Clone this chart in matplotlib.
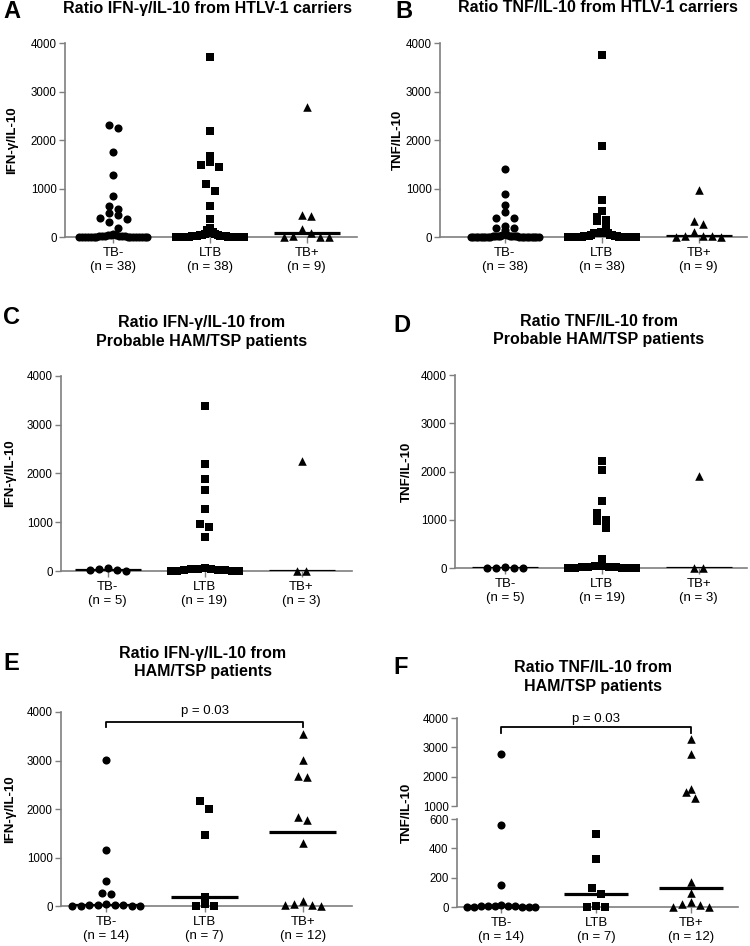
import numpy as np
import matplotlib
matplotlib.use('Agg')
import matplotlib.pyplot as plt

plt.rcParams['font.family'] = ['Liberation Sans', 'DejaVu Sans']

W, H = 750, 946
groups = ['TB-', 'LTB', 'TB+']

# --- data ---
a_tbneg = [2300, 2240, 1750, 1270, 850, 640, 570, 490, 450, 400, 370, 300, 180,
           60, 45, 40, 35, 30, 30, 25, 20, 20, 15, 10, 10, 5, 5, 0, 0, 0, 0, 0, 0, 0, 0, 0, 0, 0]
a_ltb = [3710, 2190, 1670, 1550, 1480, 1450, 1100, 940, 630, 370, 185, 165, 145, 100,
         70, 55, 50, 40, 35, 30, 25, 20, 20, 15, 12, 10, 8, 5, 5, 3, 2, 0, 0, 0, 0, 0, 0, 0]
a_tbpos = [2690, 450, 440, 160, 80, 20, 0, 0, 0]

b_tbneg = [1400, 890, 660, 520, 390, 385, 230, 185, 180, 145,
           40, 35, 30, 25, 25, 20, 20, 15, 15, 12, 10, 10, 8, 5, 5, 5, 3, 2, 0, 0, 0, 0, 0, 0, 0, 0, 0, 0]
b_ltb = [3750, 1870, 760, 540, 410, 360, 340, 185, 100, 95, 90, 90, 85, 80, 75,
         45, 40, 35, 30, 25, 20, 20, 15, 10, 10, 8, 5, 5, 3, 2, 0, 0, 0, 0, 0, 0, 0, 0]
b_tbpos = [960, 340, 270, 100, 30, 25, 20, 10, 5]

c_tbneg = [55, 30, 0, 25, 50]
c_ltb = [3380, 2200, 1890, 1670, 1280, 960, 900, 700,
         55, 45, 40, 35, 30, 20, 15, 10, 0, 0, 0]
c_tbpos = [2260, 0, 0]

d_tbneg = [15, 10, 5, 10, 0]
d_ltb = [2210, 2040, 1390, 1150, 990, 970, 820, 180,
         50, 40, 30, 25, 20, 15, 10, 5, 0, 0, 0]
d_tbpos = [1910, 0, 0]

e_tbneg = [3020, 1150, 510, 260, 250, 40, 30, 25, 20, 15, 10, 5, 0, 0]
e_ltb = [2160, 2000, 1460, 180, 50, 0, 0]
e_tbpos = [3550, 3020, 2690, 2650, 1840, 1780, 1290, 100, 50, 30, 20, 0]

f_tbneg = [2770, 557, 152, 15, 10, 10, 8, 5, 5, 3, 2, 0, 0, 0]
f_ltb = [500, 327, 130, 91, 9, 0, 0]
f_tbpos = [3278, 2763, 1594, 1480, 1286, 170, 95, 32, 23, 11, 0, 0]

p_label = 'p = 0.03'

markers = ['o', 's', '^']
msize = [34, 30, 38]
GRAY = '#7f7f7f'

fig = plt.figure(figsize=(W / 100, H / 100), dpi=100)


def rect(l, r, top, bot):
    return [l / W, 1 - bot / H, (r - l) / W, (bot - top) / H]


def swarm(ypx, d=9.0, wmax=34.0):
    # points close in height share a row; rows are spread sideways, tallest in the middle
    ypx = np.asarray(ypx, float)
    order = np.argsort(ypx, kind='stable')
    offs = np.zeros(len(ypx))
    rows, cur = [], [order[0]]
    for i in order[1:]:
        if ypx[i] - ypx[cur[0]] < d * 0.9:
            cur.append(i)
        else:
            rows.append(cur)
            cur = [i]
    rows.append(cur)
    for row in rows:
        n = len(row)
        if n == 1:
            continue
        step = min(d, 2 * wmax / (n - 1))
        slots = (np.arange(n) - (n - 1) / 2) * step
        slots = slots[np.argsort(np.abs(slots), kind='stable')]
        row_sorted = sorted(row, key=lambda i: -ypx[i])
        for k, i in enumerate(row_sorted):
            offs[i] = slots[k]
    return offs


def style(ax, bottom=True):
    for s in ['top', 'right']:
        ax.spines[s].set_visible(False)
    ax.spines['left'].set_color(GRAY)
    ax.spines['left'].set_linewidth(1.2)
    ax.spines['bottom'].set_color(GRAY)
    ax.spines['bottom'].set_linewidth(1.2)
    if not bottom:
        ax.spines['bottom'].set_visible(False)
    ax.tick_params(axis='y', colors=GRAY, labelcolor='black', labelsize=8.3, length=4, width=1.0, pad=2)
    ax.tick_params(axis='x', colors=GRAY, labelcolor='black', labelsize=9.5, length=4, width=1.0, pad=3)


def draw_groups(axes_list, data, pxfun, xpx):
    for gi, vals in enumerate(data):
        vals = np.asarray(vals, float)
        offs = swarm(pxfun(vals)) / xpx
        for ax, lo, hi in axes_list:
            m = (vals >= lo) & (vals <= hi)
            ax.scatter(gi + offs[m], vals[m], marker=markers[gi], s=msize[gi], color='black',
                       linewidths=0, zorder=4, clip_on=False)
        med = np.median(vals)
        for ax, lo, hi in axes_list:
            if lo <= med <= hi:
                ax.hlines(med, gi - 0.34, gi + 0.34, color='black', lw=2.3, zorder=3)


def cat_labels(ax, data):
    ax.set_xticks(range(3))
    ax.set_xticklabels([f'{g}\n(n = {len(v)})' for g, v in zip(groups, data)])
    for t in ax.get_xticklabels():
        t.set_linespacing(1.2)


def ftext(x, y, s, **kw):
    return fig.text(x / W, 1 - y / H, s, ha='center', va='center', **kw)


panels = [
    # letter, title lines, ylabel, data, (left, right, top, bottom), xlim, letter pos, title pos, ylabel x
    ('A', ['Ratio IFN-γ/IL-10 from HTLV-1 carriers'], 'IFN-γ/IL-10', [a_tbneg, a_ltb, a_tbpos],
     (65, 357, 43, 237), (-0.5, 2.52), (3, 12), (207, 8), 12),
    ('B', ['Ratio TNF/IL-10 from HTLV-1 carriers'], 'TNF/IL-10', [b_tbneg, b_ltb, b_tbpos],
     (440, 747, 43, 237), (-0.67, 2.5), (395, 12), (598, 8), 398),
    ('C', ['Ratio IFN-γ/IL-10 from', 'Probable HAM/TSP patients'], 'IFN-γ/IL-10', [c_tbneg, c_ltb, c_tbpos],
     (61, 352, 376, 571), (-0.48, 2.52), (3, 317), (202, 323), 10),
    ('D', ['Ratio TNF/IL-10 from', 'Probable HAM/TSP patients'], 'TNF/IL-10', [d_tbneg, d_ltb, d_tbpos],
     (455, 747, 375, 568), (-0.52, 2.5), (393, 326), (599, 321), 407),
    ('E', ['Ratio IFN-γ/IL-10 from', 'HAM/TSP patients'], 'IFN-γ/IL-10', [e_tbneg, e_ltb, e_tbpos],
     (61, 352, 712, 906), (-0.46, 2.5), (3, 663), (203, 653), 10),
]

for letter, title, ylab, data, (l, r, t, b), xlim, lpos, tpos, ylx in panels:
    ax = fig.add_axes(rect(l, r, t, b))
    ax.set_xlim(*xlim)
    ax.set_ylim(0, 4000)
    ax.set_yticks([0, 1000, 2000, 3000, 4000])
    style(ax)
    cat_labels(ax, data)
    xpx = (r - l) / (xlim[1] - xlim[0])
    scale = (b - t) / 4000.0
    draw_groups([(ax, -1, 5000)], data, lambda v, s=scale: v * s, xpx)
    ftext(ylx, (t + b) / 2, ylab, rotation=90, fontsize=9.5, fontweight='bold')
    fig.text(lpos[0] / W, 1 - lpos[1] / H, letter, fontsize=17, fontweight='bold', ha='left', va='center')
    for k, line in enumerate(title):
        ftext(tpos[0], tpos[1] + 18.5 * k, line, fontsize=11.5, fontweight='bold')
    if letter == 'E':
        ax.plot([0, 0, 2, 2], [3685, 3790, 3790, 3685], color='black', lw=1.3, clip_on=False)
        ax.text(1, 4020, p_label, ha='center', va='center', fontsize=9.5, clip_on=False)

# panel F with broken y axis
l, r = 457, 738
xlim = (-0.47, 2.5)
axu = fig.add_axes(rect(l, r, 718, 806))
axl = fig.add_axes(rect(l, r, 819, 907))
for ax in (axu, axl):
    ax.set_xlim(*xlim)
axu.set_ylim(1000, 4000)
axu.set_yticks([1000, 2000, 3000, 4000])
axl.set_ylim(0, 600)
axl.set_yticks([0, 200, 400, 600])
style(axu, bottom=False)
style(axl)
axu.set_xticks([])
f_data = [f_tbneg, f_ltb, f_tbpos]
cat_labels(axl, f_data)
xpx = (r - l) / (xlim[1] - xlim[0])


def f_px(v):
    v = np.asarray(v, float)
    return np.where(v <= 600, v * 88 / 600, 101 + (v - 1000) * 88 / 3000)


draw_groups([(axu, 1000, 5000), (axl, -1, 600)], f_data, f_px, xpx)
axu.plot([0, 0, 2, 2], [3500, 3693, 3693, 3500], color='black', lw=1.3, clip_on=False)
axu.text(1, 3955, p_label, ha='center', va='center', fontsize=9.5, clip_on=False)
ftext(407, 813, 'TNF/IL-10', rotation=90, fontsize=9.5, fontweight='bold')
fig.text(393 / W, 1 - 667 / H, 'F', fontsize=17, fontweight='bold', ha='left', va='center')
ftext(593, 668, 'Ratio TNF/IL-10 from', fontsize=11.5, fontweight='bold')
ftext(593, 686.5, 'HAM/TSP patients', fontsize=11.5, fontweight='bold')

fig.savefig('out.png', dpi=100, facecolor='white')
